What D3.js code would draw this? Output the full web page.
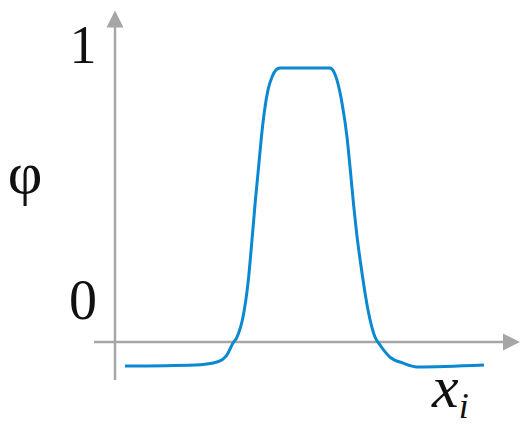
<!DOCTYPE html>
<html>
<head>
<meta charset="utf-8">
<script src="https://cdn.jsdelivr.net/npm/d3@7"></script>
<style>
  body { margin: 0; background: #fff; }
  svg { display: block; }
  text { font-family: "Liberation Serif", "Times New Roman", serif; fill: #111; }
</style>
</head>
<body>
<div id="chart"></div>
<script>
// curve (x in 0..100, phi in 0..1)
var xs = [2.5, 20, 25.5, 28, 29.5, 30.5, 32, 33.25, 34.4, 35.1, 35.9, 36.6, 37.4, 38.25, 39.25, 40.25, 41.25,
          53.75, 54.75, 55.5, 56.75, 58, 58.9, 59.7, 60.4, 61.75, 63.25, 65, 66.25, 68.75, 72, 75.5, 92.25];
var phis = [-0.088, -0.084, -0.073, -0.047, -0.004, 0.018, 0.091, 0.215, 0.398, 0.518, 0.639, 0.748, 0.847, 0.92, 0.967, 0.993, 1,
            1, 0.985, 0.956, 0.872, 0.748, 0.617, 0.493, 0.398, 0.252, 0.117, 0.018, -0.011, -0.055, -0.077, -0.091, -0.084];
var yTicks = ["0", "1"];
var xLabel = "x", xSub = "i", yLabel = "φ";

const width = 528, height = 429;

var svg = d3.select("#chart").append("svg")
  .attr("width", width)
  .attr("height", height);

var x = d3.scaleLinear().domain([0, 100]).range([115, 515]);
var y = d3.scaleLinear().domain([0, 1]).range([342, 68]);

var axisColor = "#a6a6a6";

// y axis line + arrow
svg.append("line")
  .attr("x1", x(0)).attr("x2", x(0))
  .attr("y1", y(-0.139)).attr("y2", y(1.16))
  .attr("stroke", axisColor).attr("stroke-width", 2.5);
svg.append("path")
  .attr("d", "M" + x(0) + "," + y(1.21) + " L" + (x(0) - 8.5) + "," + (y(1.21) + 17) +
    " L" + (x(0) + 8.5) + "," + (y(1.21) + 17) + "Z")
  .attr("fill", axisColor);

// x axis line + arrow
svg.append("line")
  .attr("x1", x(-5.25)).attr("x2", x(99))
  .attr("y1", y(0)).attr("y2", y(0))
  .attr("stroke", axisColor).attr("stroke-width", 2.5);
svg.append("path")
  .attr("d", "M" + x(101.25) + "," + y(0) + " L" + (x(101.25) - 17) + "," + (y(0) - 8.5) +
    " L" + (x(101.25) - 17) + "," + (y(0) + 8.5) + "Z")
  .attr("fill", axisColor);

// curve
var pts = xs.map(function(d, i) { return [d, phis[i]]; });
var line = d3.line()
  .x(function(d) { return x(d[0]); })
  .y(function(d) { return y(d[1]); })
  .curve(d3.curveMonotoneX);

svg.append("path")
  .datum(pts)
  .attr("d", line)
  .attr("fill", "none")
  .attr("stroke", "#0a88d0")
  .attr("stroke-width", 3)
  .attr("stroke-linejoin", "round");

// labels
svg.append("text")
  .attr("x", 83).attr("y", 63)
  .attr("text-anchor", "middle")
  .attr("font-size", 54)
  .text(yTicks[1]);
svg.append("text")
  .attr("x", 83).attr("y", 319)
  .attr("text-anchor", "middle")
  .attr("font-size", 56)
  .text(yTicks[0]);
svg.append("text")
  .attr("x", 25).attr("y", 193)
  .attr("text-anchor", "middle")
  .attr("font-size", 60)
  .text(yLabel);

var xl = svg.append("text")
  .attr("x", 432).attr("y", 407)
  .attr("font-size", 60)
  .attr("font-style", "italic");
xl.append("tspan").text(xLabel);
xl.append("tspan")
  .attr("font-size", 36)
  .attr("dy", 11)
  .text(xSub);
</script>
</body>
</html>
